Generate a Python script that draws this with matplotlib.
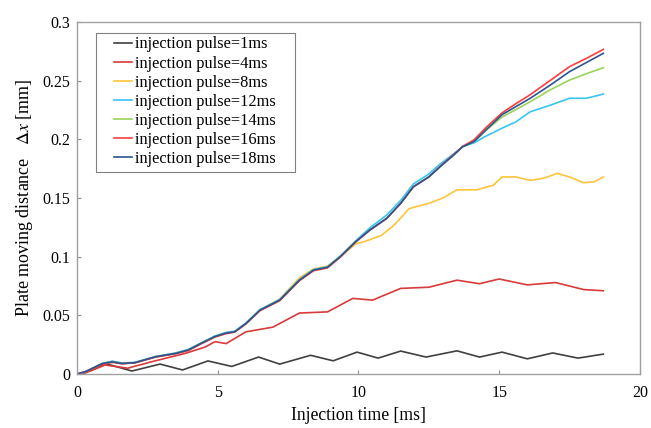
import matplotlib
matplotlib.use('Agg')
import matplotlib.pyplot as plt
from matplotlib.patches import Rectangle

plt.rcParams['font.family'] = ['Liberation Serif', 'DejaVu Serif']
plt.rcParams['mathtext.fontset'] = 'stix'

# 各脉宽下的板移动距离 (时间 ms, 位移 mm)
t_1ms = [0, 0.5, 1.0, 1.45, 1.95, 2.95, 3.75, 4.65, 5.5, 6.45, 7.2, 8.3, 9.1, 9.95,
         10.7, 11.5, 12.4, 13.5, 14.3, 15.1, 16.0, 16.9, 17.8, 18.7]
x_1ms = [0, 0.003, 0.009, 0.006, 0.0026, 0.0085, 0.0035, 0.0112, 0.0065, 0.0145, 0.0085,
         0.016, 0.0113, 0.0187, 0.0136, 0.0196, 0.0145, 0.0198, 0.0145, 0.0187, 0.013,
         0.018, 0.0136, 0.017]

t_4ms = [0, 0.3, 1.0, 1.8, 2.65, 3.84, 4.55, 4.9, 5.3, 6.0, 6.96, 7.9, 8.9, 9.8, 10.5,
         11.2, 11.5, 12.5, 13.5, 14.3, 15.0, 16.0, 17.0, 18.0, 18.7]
x_4ms = [0, 0.001, 0.0077, 0.005, 0.0105, 0.0176, 0.023, 0.0276, 0.026, 0.036, 0.040,
         0.052, 0.053, 0.0645, 0.063, 0.070, 0.073, 0.074, 0.080, 0.077, 0.081, 0.076,
         0.078, 0.072, 0.071]

t_8ms = [0, 0.3, 0.9, 1.25, 1.6, 2.05, 2.8, 3.5, 3.95, 4.45, 4.9, 5.3, 5.6, 6.0, 6.5,
         7.2, 7.9, 8.4, 8.9, 9.35, 9.9, 10.2, 10.8, 11.2, 11.5, 11.8, 12.5, 13.0, 13.5,
         14.2, 14.8, 15.1, 15.6, 16.1, 16.6, 17.05, 17.5, 18.0, 18.4, 18.7]
x_8ms = [0, 0.002, 0.009, 0.0105, 0.009, 0.0097, 0.0148, 0.0176, 0.0205, 0.0267, 0.032,
         0.035, 0.036, 0.043, 0.0545, 0.064, 0.082, 0.0895, 0.092, 0.100, 0.111, 0.1128,
         0.118, 0.1255, 0.133, 0.141, 0.1455, 0.150, 0.157, 0.157, 0.161, 0.168, 0.168,
         0.165, 0.167, 0.171, 0.168, 0.163, 0.164, 0.168]

t_12ms = [0, 0.3, 0.9, 1.25, 1.6, 2.05, 2.8, 3.5, 3.95, 4.45, 4.9, 5.3, 5.6, 6.0, 6.5,
          7.2, 7.9, 8.4, 8.9, 9.35, 9.9, 10.4, 11.0, 11.5, 11.95, 12.5, 12.9, 13.4, 13.7,
          14.1, 14.55, 15.1, 15.6, 16.1, 16.8, 17.5, 18.1, 18.7]
x_12ms = [0, 0.002, 0.009, 0.011, 0.0095, 0.010, 0.015, 0.018, 0.021, 0.027, 0.0325,
          0.0355, 0.0365, 0.0435, 0.055, 0.0635, 0.0805, 0.089, 0.0915, 0.1005, 0.1135,
          0.1245, 0.1355, 0.148, 0.162, 0.1705, 0.179, 0.188, 0.1937, 0.197, 0.203,
          0.2095, 0.215, 0.2235, 0.229, 0.235, 0.235, 0.2386]

t_14ms = [0, 0.3, 0.9, 1.25, 1.6, 2.05, 2.8, 3.5, 3.95, 4.45, 4.9, 5.3, 5.6, 6.0, 6.5,
          7.2, 7.9, 8.4, 8.9, 9.35, 9.9, 10.4, 11.0, 11.5, 11.95, 12.5, 12.9, 13.4, 13.7,
          14.1, 14.55, 15.1, 15.6, 16.1, 16.8, 17.5, 18.1, 18.7]
x_14ms = [0, 0.002, 0.009, 0.0105, 0.009, 0.0097, 0.0148, 0.0176, 0.0205, 0.0267, 0.032,
          0.035, 0.036, 0.043, 0.0545, 0.063, 0.080, 0.0886, 0.091, 0.100, 0.1128, 0.1227,
          0.1327, 0.1455, 0.1596, 0.168, 0.1767, 0.187, 0.1937, 0.198, 0.208, 0.219,
          0.2255, 0.232, 0.242, 0.2505, 0.256, 0.261]

t_16ms = [0, 0.3, 0.9, 1.25, 1.6, 2.05, 2.8, 3.5, 3.95, 4.45, 4.9, 5.3, 5.6, 6.0, 6.5,
          7.2, 7.9, 8.4, 8.9, 9.35, 9.9, 10.4, 11.0, 11.5, 11.95, 12.5, 12.9, 13.4, 13.7,
          14.1, 14.55, 15.1, 15.6, 16.1, 16.8, 17.5, 18.1, 18.7]
x_16ms = [0, 0.002, 0.0085, 0.010, 0.0088, 0.0095, 0.0145, 0.0173, 0.020, 0.0262, 0.0315,
          0.0345, 0.0357, 0.0428, 0.054, 0.0625, 0.0795, 0.088, 0.0905, 0.0995, 0.1125,
          0.1225, 0.1325, 0.1455, 0.1596, 0.168, 0.177, 0.1875, 0.194, 0.1995, 0.2105,
          0.2225, 0.2305, 0.238, 0.250, 0.262, 0.269, 0.2767]

t_18ms = [0, 0.3, 0.9, 1.25, 1.6, 2.05, 2.8, 3.5, 3.95, 4.45, 4.9, 5.3, 5.6, 6.0, 6.5,
          7.2, 7.9, 8.4, 8.9, 9.35, 9.9, 10.4, 11.0, 11.5, 11.95, 12.5, 12.9, 13.4, 13.7,
          14.1, 14.55, 15.1, 15.6, 16.1, 16.8, 17.5, 18.1, 18.7]
x_18ms = [0, 0.002, 0.009, 0.0105, 0.009, 0.0097, 0.0148, 0.0176, 0.0205, 0.0267, 0.032,
          0.035, 0.036, 0.043, 0.0545, 0.063, 0.080, 0.0886, 0.091, 0.100, 0.1128, 0.1227,
          0.1327, 0.1455, 0.1596, 0.168, 0.1767, 0.187, 0.1937, 0.198, 0.2085, 0.221,
          0.228, 0.235, 0.246, 0.2577, 0.2655, 0.2733]

labels = ['injection pulse=1ms', 'injection pulse=4ms', 'injection pulse=8ms',
          'injection pulse=12ms', 'injection pulse=14ms', 'injection pulse=16ms',
          'injection pulse=18ms']
colors = ['#404040', '#d93a3a', '#ffc43a', '#38c4f4', '#9ad35a', '#ff3c3c', '#2a5595']

series = [(t_1ms, x_1ms), (t_4ms, x_4ms), (t_8ms, x_8ms), (t_12ms, x_12ms),
          (t_14ms, x_14ms), (t_16ms, x_16ms), (t_18ms, x_18ms)]

fig = plt.figure(figsize=(6.51, 4.28), dpi=100)
ax = fig.add_axes([0.1183, 0.126, 0.8647, 0.8226])

for (t, x), lab, c in zip(series, labels, colors):
    ax.plot(t, x, color=c, linewidth=1.2, label=lab)

ax.set_xlim(0, 20)
ax.set_ylim(0, 0.3)
ax.set_xticks([0, 5, 10, 15, 20])
ax.set_yticks([0, 0.05, 0.1, 0.15, 0.2, 0.25, 0.3])
ax.set_yticklabels(['0', '0.05', '0.1', '0.15', '0.2', '0.25', '0.3'])
ax.tick_params(direction='in', length=3, width=0.8, color='#909090', labelsize=11.5)
ax.tick_params(axis='x', pad=8)
ax.tick_params(axis='y', pad=5)
for sp in ax.spines.values():
    sp.set_color('#a0a0a0')
    sp.set_linewidth(1.0)

ax.set_xlabel('Injection time [ms]', fontsize=12.7, labelpad=4)
ax.set_ylabel(r'Plate moving distance   $\Delta x$ [mm]', fontsize=13, labelpad=5)

# 图例：文字不带框，外框单独画（左右留白比上下大）
leg = ax.legend(loc='upper left', bbox_to_anchor=(0.0657, 0.959), fontsize=11.8,
                frameon=False, handlelength=1.1, handletextpad=0.18,
                labelspacing=0.19, borderpad=0, borderaxespad=0)
ax.add_patch(Rectangle((0.0337, 0.574), 0.3535, 0.3948, transform=ax.transAxes,
                       facecolor='white', edgecolor='#808080', linewidth=0.8,
                       zorder=4))
leg.set_zorder(5)

plt.savefig('out.png', dpi=100)
plt.close()
